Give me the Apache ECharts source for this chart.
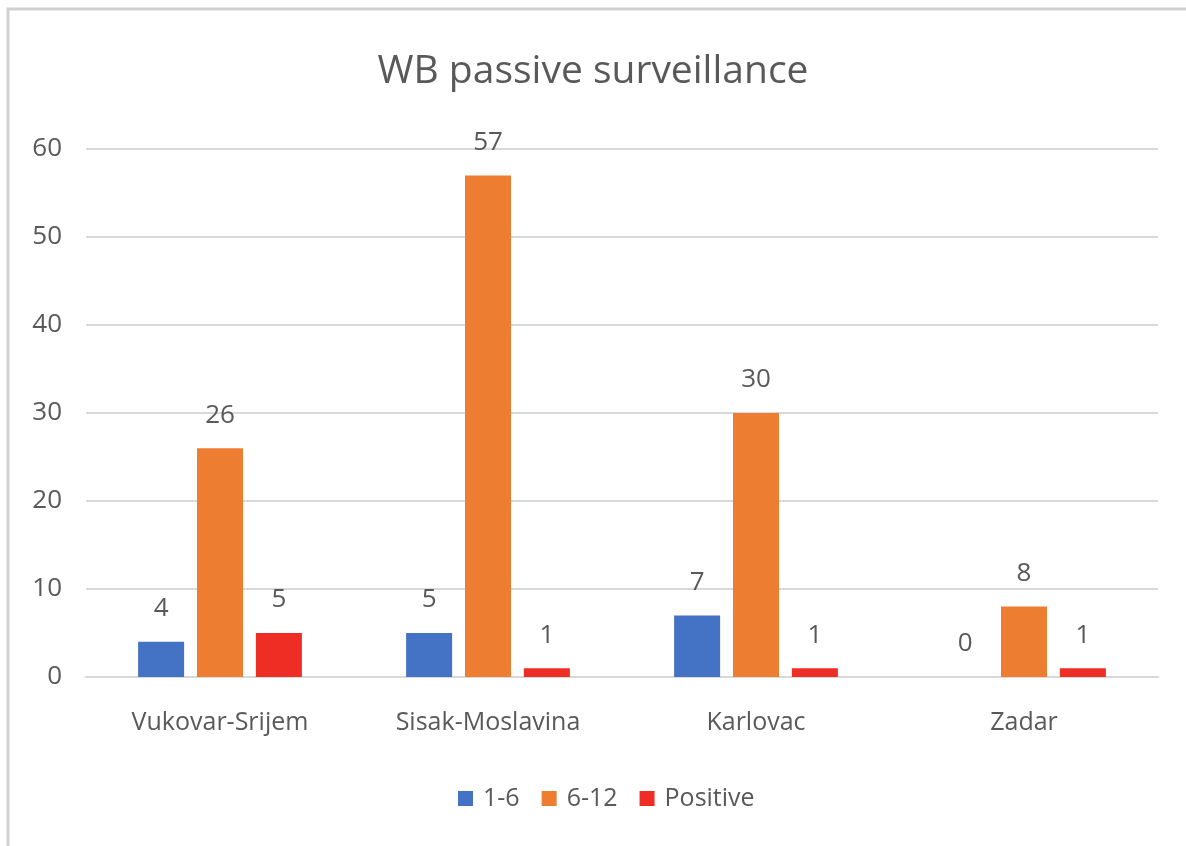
<!DOCTYPE html>
<html>
<head>
<meta charset="utf-8">
<script src="https://cdn.jsdelivr.net/npm/echarts@6/dist/echarts.min.js"></script>
<style>
  html, body { margin: 0; padding: 0; background: #fff; }
  #chart { width: 1186px; height: 846px; }
</style>
</head>
<body>
<div id="chart"></div>
<script>
const categories = ['Vukovar-Srijem', 'Sisak-Moslavina', 'Karlovac', 'Zadar']
const seriesNames = ['1-6', '6-12', 'Positive']
const age1to6 = [4, 5, 7, 0]
const age6to12 = [26, 57, 30, 8]
const positive = [5, 1, 1, 1]
const colors = ['#4472C4', '#ED7D31', '#EE2E24']

const textColor = '#595959'
const font = '"Open Sans", "Noto Sans", sans-serif'

const chart = echarts.init(document.getElementById('chart'))

const seriesData = [age1to6, age6to12, positive]

const option = {
  color: colors,
  textStyle: { fontFamily: font, color: textColor },
  title: {
    text: 'WB passive surveillance',
    left: 'center',
    top: 47,
    textStyle: { fontFamily: font, fontSize: 39, fontWeight: 'normal', color: textColor }
  },
  legend: {
    data: seriesNames,
    bottom: 30,
    left: 453,
    itemWidth: 15,
    itemHeight: 15,
    itemGap: 22,
    icon: 'rect',
    textStyle: { fontFamily: font, fontSize: 25, color: textColor, padding: [0, 0, 0, 5] }
  },
  grid: {
    left: 86,
    right: 28,
    top: 149,
    bottom: 169
  },
  xAxis: {
    type: 'category',
    data: categories,
    axisTick: { show: false },
    axisLine: { show: true, lineStyle: { color: '#D9D9D9', width: 2 } },
    axisLabel: { fontFamily: font, fontSize: 25, color: textColor, margin: 33 }
  },
  yAxis: {
    type: 'value',
    min: 0,
    max: 60,
    interval: 10,
    axisLine: { show: false },
    axisTick: { show: false },
    splitLine: { lineStyle: { color: '#D9D9D9', width: 2 } },
    axisLabel: { fontFamily: font, fontSize: 26, color: textColor, margin: 24 }
  },
  series: seriesNames.map((name, i) => {
    return {
      name: name,
      type: 'bar',
      data: seriesData[i],
      barWidth: 46,
      barGap: '28%',
      label: {
        show: true,
        position: 'top',
        distance: 20,
        fontFamily: font,
        fontSize: 26,
        color: textColor
      }
    }
  }),
  graphic: [{
    type: 'rect',
    shape: { x: 8, y: 9, width: 1200, height: 860 },
    style: { fill: 'none', stroke: '#D0D0D0', lineWidth: 3 },
    silent: true
  }]
}

chart.setOption(option)
</script>
</body>
</html>
